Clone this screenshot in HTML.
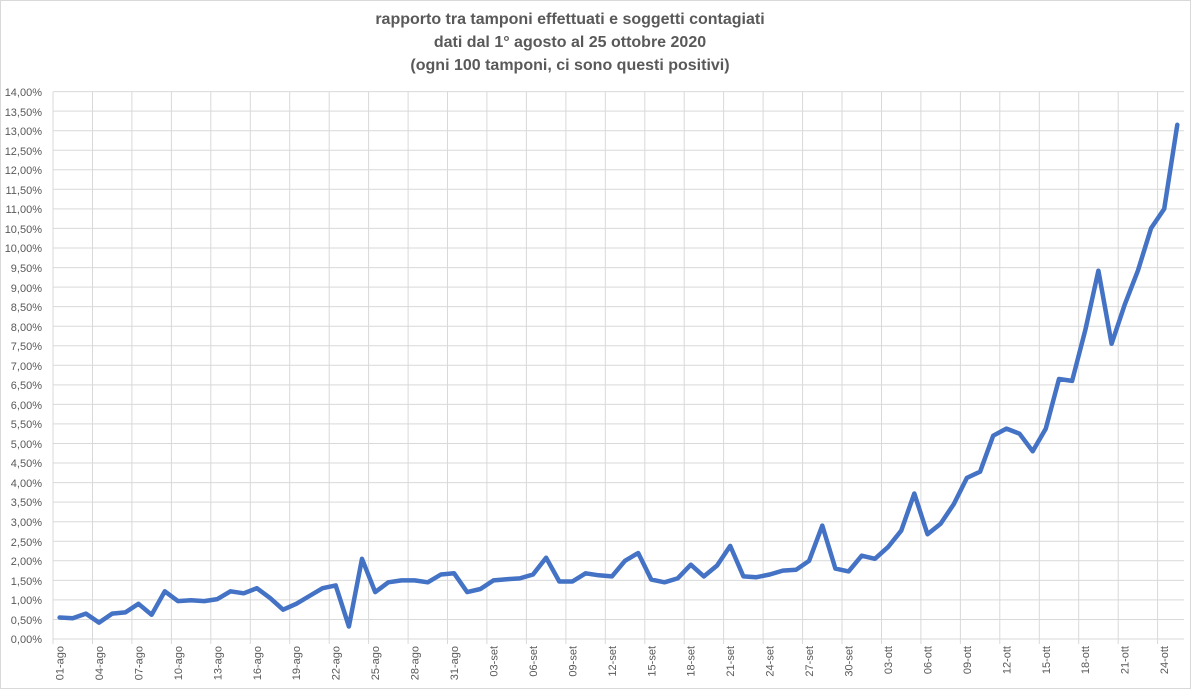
<!DOCTYPE html>
<html><head><meta charset="utf-8"><style>
html,body{margin:0;padding:0;background:#fff;}
svg{display:block;font-family:"Liberation Sans",sans-serif;}
</style></head><body>
<svg id="s" width="1191" height="691" viewBox="0 0 1191 691">
<rect x="0" y="0" width="1191" height="691" fill="#fff"/>
<rect x="0.5" y="0.5" width="1190" height="688" fill="none" stroke="#d9d9d9"/>
<g id="grid" stroke="#d9d9d9" stroke-width="1"></g>
<g font-size="16" font-weight="bold" fill="#595959" text-anchor="middle">
<text x="570" y="24">rapporto tra tamponi effettuati e soggetti contagiati</text>
<text x="570" y="47">dati dal 1° agosto al 25 ottobre 2020</text>
<text x="570" y="70">(ogni 100 tamponi, ci sono questi positivi)</text>
</g>
<g font-size="11" fill="#595959" text-anchor="end">
<text x="42" y="643">0,00%</text><text x="42" y="624">0,50%</text><text x="42" y="604">1,00%</text><text x="42" y="585">1,50%</text><text x="42" y="565">2,00%</text><text x="42" y="546">2,50%</text><text x="42" y="526">3,00%</text><text x="42" y="506">3,50%</text><text x="42" y="487">4,00%</text><text x="42" y="467">4,50%</text><text x="42" y="448">5,00%</text><text x="42" y="428">5,50%</text><text x="42" y="409">6,00%</text><text x="42" y="389">6,50%</text><text x="42" y="370">7,00%</text><text x="42" y="350">7,50%</text><text x="42" y="331">8,00%</text><text x="42" y="311">8,50%</text><text x="42" y="292">9,00%</text><text x="42" y="272">9,50%</text><text x="42" y="252">10,00%</text><text x="42" y="233">10,50%</text><text x="42" y="213">11,00%</text><text x="42" y="194">11,50%</text><text x="42" y="174">12,00%</text><text x="42" y="155">12,50%</text><text x="42" y="135">13,00%</text><text x="42" y="116">13,50%</text><text x="42" y="96">14,00%</text>
</g>
<g font-size="11" fill="#595959" text-anchor="end">
<text transform="translate(63.5,646) rotate(-90)">01-ago</text>
<text transform="translate(103,646) rotate(-90)">04-ago</text>
<text transform="translate(142.4,646) rotate(-90)">07-ago</text>
<text transform="translate(181.9,646) rotate(-90)">10-ago</text>
<text transform="translate(221.3,646) rotate(-90)">13-ago</text>
<text transform="translate(260.8,646) rotate(-90)">16-ago</text>
<text transform="translate(300.2,646) rotate(-90)">19-ago</text>
<text transform="translate(339.7,646) rotate(-90)">22-ago</text>
<text transform="translate(379.1,646) rotate(-90)">25-ago</text>
<text transform="translate(418.6,646) rotate(-90)">28-ago</text>
<text transform="translate(458,646) rotate(-90)">31-ago</text>
<text transform="translate(497.5,646) rotate(-90)">03-set</text>
<text transform="translate(536.9,646) rotate(-90)">06-set</text>
<text transform="translate(576.4,646) rotate(-90)">09-set</text>
<text transform="translate(615.8,646) rotate(-90)">12-set</text>
<text transform="translate(655.3,646) rotate(-90)">15-set</text>
<text transform="translate(694.7,646) rotate(-90)">18-set</text>
<text transform="translate(734.2,646) rotate(-90)">21-set</text>
<text transform="translate(773.6,646) rotate(-90)">24-set</text>
<text transform="translate(813.1,646) rotate(-90)">27-set</text>
<text transform="translate(852.5,646) rotate(-90)">30-set</text>
<text transform="translate(892,646) rotate(-90)">03-ott</text>
<text transform="translate(931.4,646) rotate(-90)">06-ott</text>
<text transform="translate(970.9,646) rotate(-90)">09-ott</text>
<text transform="translate(1010.3,646) rotate(-90)">12-ott</text>
<text transform="translate(1049.8,646) rotate(-90)">15-ott</text>
<text transform="translate(1089.2,646) rotate(-90)">18-ott</text>
<text transform="translate(1128.7,646) rotate(-90)">21-ott</text>
<text transform="translate(1168.1,646) rotate(-90)">24-ott</text>
</g>
<polyline id="ln" fill="none" stroke="#4472c4" stroke-width="4.5" stroke-linejoin="round" stroke-linecap="round" points=""/>
</svg>
<script>
var L=53,CW=13.15,Y0=639,DY=19.55/0.5;
var g=document.getElementById('grid'),h='';
for(var i=0;i<=28;i++){var y=Y0-i*19.55;h+='<line x1="'+L+'" x2="1184" y1="'+y.toFixed(1)+'" y2="'+y.toFixed(1)+'"/>';}
for(var k=0;k<=29;k++){var x=L+k*3*CW;if(x>1185)break;h+='<line x1="'+x.toFixed(1)+'" x2="'+x.toFixed(1)+'" y1="92" y2="'+(k%1==0?644:639)+'"/>';}
g.innerHTML=h;
var d=[0.55,0.53,0.65,0.42,0.65,0.68,0.9,0.62,1.22,0.97,0.99,0.97,1.02,1.22,1.17,1.3,1.05,0.75,0.9,1.1,1.3,1.37,0.32,2.05,1.2,1.45,1.5,1.5,1.45,1.65,1.68,
1.2,1.28,1.5,1.53,1.55,1.65,2.08,1.47,1.47,1.68,1.63,1.6,2.0,2.2,1.52,1.45,1.55,1.9,1.6,1.88,2.38,1.6,1.58,1.65,1.75,1.77,2.0,2.9,1.8,1.73,
2.13,2.05,2.35,2.77,3.72,2.68,2.95,3.45,4.12,4.28,5.2,5.38,5.25,4.8,5.38,6.65,6.6,7.9,9.42,7.55,8.55,9.42,10.5,11.0,13.15];
var p=d.map(function(v,i){return (L+CW/2+i*CW).toFixed(1)+','+(Y0-v*DY).toFixed(1);}).join(' ');
document.getElementById('ln').setAttribute('points',p);
</script>
</body></html>
